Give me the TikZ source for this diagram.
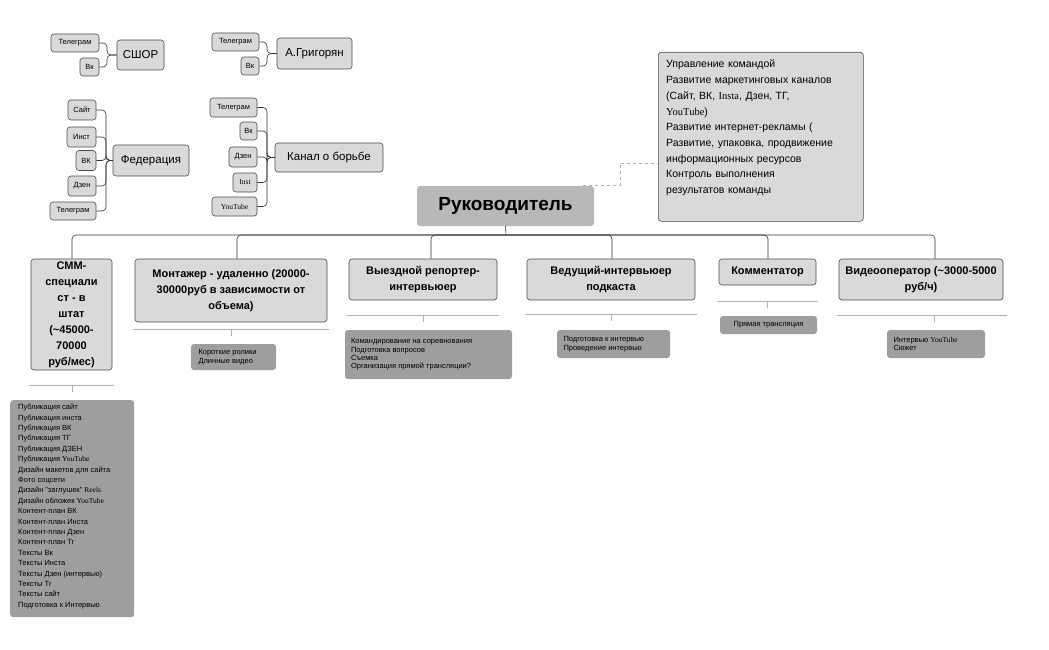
\documentclass[tikz,border=0pt]{standalone}
\usepackage{fontspec}
\setmainfont{Liberation Sans}
\newfontfamily\serf{Liberation Serif}
\begin{document}
\begin{tikzpicture}[x=1pt,y=-1pt,
 box/.style={draw=black!70,fill=black!15,rounded corners=3,line width=0.6pt,inner sep=0pt,align=center},
 sm/.style={box,font=\fontsize{7.5}{9}\selectfont},
 md/.style={box,font=\fontsize{11.5}{14}\selectfont},
 hd/.style={box,font=\bfseries\fontsize{11}{16}\selectfont},
 sub/.style={fill=black!38,rounded corners=3,inner sep=0pt,align=left,font=\fontsize{7.5}{8.4}\selectfont},
 ln/.style={line width=0.6pt,black!80,rounded corners=4},
 gl/.style={line width=0.6pt,black!30}]
\useasboundingbox (0,0) rectangle (1049,650);
% top-left groups
\node[md,minimum width=47,minimum height=30] (sh) at (140.5,55) {СШОР};
\node[sm,minimum width=48,minimum height=18] (sh1) at (75,43) {Телеграм};
\node[sm,minimum width=19,minimum height=18] (sh2) at (89.5,67) {Вк};
\foreach \n in {sh1,sh2} \draw[ln] (\n.east) -- (107,0|-\n.east) -- (107,55) -- (sh.west);
\node[md,minimum width=75,minimum height=31] (ag) at (314.5,53.5) {А.Григорян};
\node[sm,minimum width=47,minimum height=18] (ag1) at (235.5,42) {Телеграм};
\node[sm,minimum width=18,minimum height=18] (ag2) at (250,66) {Вк};
\foreach \n in {ag1,ag2} \draw[ln] (\n.east) -- (267,0|-\n.east) -- (267,53.5) -- (ag.west);
\node[md,minimum width=76,minimum height=31] (fd) at (151,160.5) {Федерация};
\node[sm,minimum width=28,minimum height=20] (fd1) at (82,110) {Сайт};
\node[sm,minimum width=29,minimum height=20] (fd2) at (81.5,137) {Инст};
\node[sm,minimum width=20,minimum height=20] (fd3) at (86,160.5) {ВК};
\node[sm,minimum width=28,minimum height=20] (fd4) at (82,186) {Дзен};
\node[sm,minimum width=46,minimum height=18] (fd5) at (73,211) {Телеграм};
\foreach \n in {fd1,fd2,fd3,fd4,fd5} \draw[ln] (\n.east) -- (106,0|-\n.east) -- (106,160.5) -- (fd.west);
\node[md,minimum width=108,minimum height=29] (kb) at (329,157.5) {Канал о борьбе};
\node[sm,minimum width=47,minimum height=19] (kb1) at (233.5,107.5) {Телеграм};
\node[sm,minimum width=17,minimum height=18] (kb2) at (248.5,131) {Вк};
\node[sm,minimum width=28,minimum height=20] (kb3) at (243,157) {Дзен};
\node[sm,minimum width=24,minimum height=19] (kb4) at (245,182.5) {\serf Inst};
\node[sm,minimum width=45,minimum height=19] (kb5) at (234.5,206.5) {\serf YouTube};
\foreach \n in {kb1,kb2,kb3,kb4,kb5} \draw[ln] (\n.east) -- (267,0|-\n.east) -- (267,157.5) -- (kb.west);
% root
\node[fill=black!28,rounded corners=3,minimum width=177,minimum height=40,font=\bfseries\fontsize{19}{22}\selectfont] (rt) at (505.5,206) {Руководитель};
\node[box,minimum width=205,minimum height=169,anchor=north west] (nt) at (658,52) {};
\node[anchor=north west,inner sep=0pt,align=left,text width=200,font=\fontsize{10.5}{15.7}\selectfont] (ntt) at (666,60) {Управление командой\\Развитие маркетинговых каналов\\(Сайт, ВК, {\serf Insta}, Дзен, ТГ,\\{\serf YouTube})\\Развитие интернет-рекламы (\\Развитие, упаковка, продвижение\\информационных ресурсов\\Контроль выполнения\\результатов команды};
\coordinate (d1) at (620,185);
\draw[dashed,black!30,line width=0.7pt] (583,185) -- (d1) -- (620,163) -- (nt.west|-0,163);
% children
\node[hd,minimum width=81,minimum height=111] (c1) at (71.5,314.5) {СММ-\\специали\\ст - в\\штат\\(\textasciitilde45000-\\70000\\руб/мес)};
\node[hd,minimum width=192,minimum height=63] (c2) at (231,290.5) {Монтажер - удаленно (20000-\\30000руб в зависимости от\\объема)};
\node[hd,minimum width=148,minimum height=41] (c3) at (423,279.5) {Выездной репортер-\\интервьюер};
\node[hd,minimum width=168,minimum height=41] (c4) at (611,279.5) {Ведущий-интервьюер\\подкаста};
\node[hd,minimum width=97,minimum height=26] (c5) at (767.5,272) {Комментатор};
\node[hd,minimum width=164,minimum height=41] (c6) at (921,279.5) {Видеооператор (\textasciitilde3000-5000\\руб/ч)};
\draw[ln] (rt.south) -- (506,235);
\foreach \c/\x in {c1/72,c2/237,c3/431,c4/612,c5/768,c6/935} \draw[ln] (\c.north-|\x,0) -- (\x,235) -- (506,235);
% sub lines
\foreach \a/\b/\y/\t in {29/114/385/72,133/329/329/231,347/499/315/423,525/697/314/611,717/818/301/767,837/1007/315/934}
 { \draw[gl] (\a,\y) -- (\b,\y); \draw[gl] (\t,\y+1) -- (\t,\y+7); }
\node[sub,minimum width=124,minimum height=217,anchor=north west] (s1) at (10,400) {};
\node[anchor=north west,inner sep=0pt,align=left,font=\fontsize{7.5}{10.4}\selectfont] (s1t) at (18,404) {Публикация сайт\\Публикация инста\\Публикация ВК\\Публикация ТГ\\Публикация ДЗЕН\\Публикация {\serf YouTube}\\Дизайн макетов для сайта\\Фото соцсети\\Дизайн "заглушек" {\serf Reels}\\Дизайн обложек {\serf YouTube}\\Контент-план ВК\\Контент-план Инста\\Контент-план Дзен\\Контент-план Тг\\Тексты Вк\\Тексты Инста\\Тексты Дзен (интервью)\\Тексты Тг\\Тексты сайт\\Подготовка к Интервью};
\node[sub,minimum width=85,minimum height=26] (s2) at (233.5,357) {\parbox{70pt}{Короткие ролики\\Длинные видео}};
\node[sub,minimum width=167,minimum height=49] (s3) at (428.5,354.5) {\parbox{155pt}{Командирование на соревнования\\Подготовка вопросов\\Съемка\\Организация прямой трансляции?}};
\node[sub,minimum width=113,minimum height=28] (s4) at (613.5,344) {\parbox{100pt}{Подготовка к интервью\\Проведение интервью}};
\node[sub,minimum width=97,minimum height=18] (s5) at (768.5,325) {Прямая трансляция};
\node[sub,minimum width=98,minimum height=28] (s6) at (936,344) {\parbox{85pt}{Интервью {\serf YouTube}\\Сюжет}};
\end{tikzpicture}
\end{document}
